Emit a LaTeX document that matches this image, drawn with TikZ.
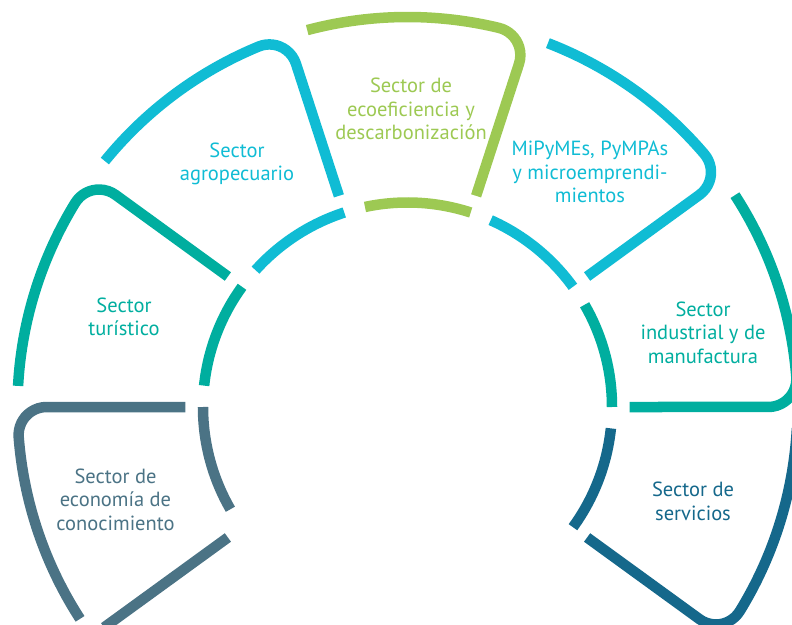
\documentclass[tikz,border=0pt]{standalone}
\usepackage{fontspec}
\setmainfont{PT Sans}
\definecolor{cCyan}{RGB}{16,188,212}
\definecolor{cTeal}{RGB}{0,174,159}
\definecolor{cGreen}{RGB}{157,201,83}
\definecolor{cSlate}{RGB}{75,115,133}
\definecolor{cDark}{RGB}{21,104,139}
\begin{document}
\begin{tikzpicture}[x=1pt,y=1pt,
  sec/.style={line width=10.5pt, line cap=butt},
  lbl/.style={align=center, anchor=base, inner sep=0pt,
    font=\fontsize{20.5}{23.5}\selectfont}]
\useasboundingbox (-407.5,-217) rectangle (384.5,407);
\clip (-407.5,-217) rectangle (384.5,407);
\foreach \a/\c in {180/cSlate,144/cTeal,108/cCyan,72/cGreen,36/cCyan,0/cTeal,-36/cDark}{
  \draw[sec, draw=\c] ({\a+36-3.1}:390pt)
      arc[start angle={\a+36-3.1}, end angle={\a+4.437}, radius=390pt]
      arc[start angle={\a+4.437}, end angle={\a-90}, radius=28pt]
      -- (\a:222pt);
  \draw[sec, draw=\c] (\a:204.5pt) arc[start angle=\a, end angle={\a+30}, radius=204.5pt];
}
\draw[sec, draw=cSlate] (216:222pt) -- (216:375pt);
% base anchor = baseline of the last line
\node[lbl, text=cCyan] (agro) at (-170.5,226) {Sector\\agropecuario};
\node[lbl, text=cGreen] (eco) at (3.5,267) {Sector de\\ecoeficiencia y\\descarbonización};
\node[lbl, text=cCyan] (mipy) at (182.5,204) {MiPyMEs, PyMPAs\\y microemprendi-\\mientos};
\node[lbl, text=cTeal] (tur) at (-283.5,71) {Sector\\turístico};
\node[lbl, text=cTeal] (ind) at (295.5,44) {Sector\\industrial y de\\manufactura};
\node[lbl, text=cSlate] (econ) at (-292,-123) {Sector de\\economía de\\conocimiento};
\node[lbl, text=cDark] (serv) at (285.5,-113) {Sector de\\servicios};
\end{tikzpicture}
\end{document}
